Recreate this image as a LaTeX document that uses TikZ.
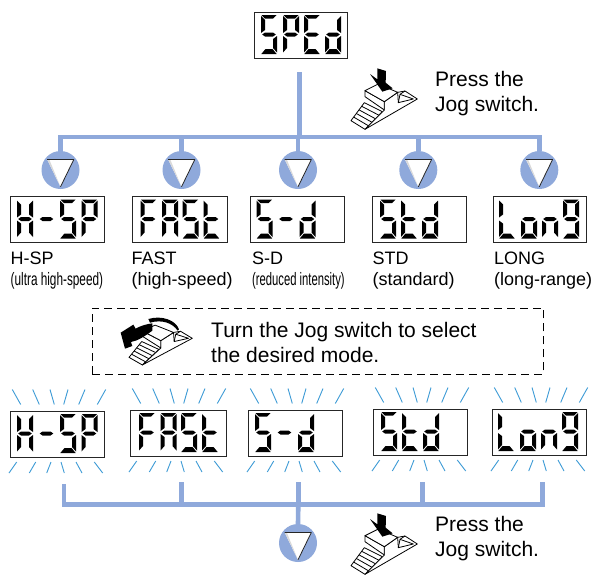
\documentclass[tikz,border=0pt]{standalone}
\usepackage{fontspec}
\setmainfont{Liberation Sans}
\definecolor{barblue}{HTML}{8FA9DB}
\definecolor{rayblue}{HTML}{3D9BD6}
\tikzset{
  bar/.style={draw=barblue,line width=4.6pt,line join=miter,line cap=butt},
  dispbox/.style={draw=black!85,line width=1pt,fill=white,inner sep=0pt,minimum width=#1,minimum height=46pt,anchor=north west},
  knob/.style={circle,fill=barblue,minimum size=38pt,inner sep=0pt},
  ray/.style={draw=rayblue,line width=.9pt},
  lbl/.style={anchor=north west,align=left,inner sep=0pt,font=\fontsize{18}{21}\selectfont},
  note/.style={anchor=north west,align=left,inner sep=0pt,font=\fontsize{21}{25}\selectfont},
  iconline/.style={draw=black,fill=white,line width=.8pt,line join=round},
}
% seven-segment pieces, in a 16 x 39 cell
\def\sga{\fill (.5,0)--(15.5,0)--(12,3.6)--(4,3.6)--cycle;}
\def\sgb{\fill (16,1)--(16,18)--(12,15)--(12,5)--cycle;}
\def\sgc{\fill (16,21)--(16,37.5)--(12,33)--(12,24)--cycle;}
\def\sgd{\fill (.3,39)--(15.7,39)--(11.5,34)--(4.5,34)--cycle;}
\def\sge{\fill (0,21)--(0,37.5)--(4,33)--(4,24)--cycle;}
\def\sgf{\fill (0,1)--(0,18)--(4,15)--(4,5)--cycle;}
\def\sgg{\fill (1.2,19.5)--(4,17.5)--(12,17.5)--(14.8,19.5)--(12,21.5)--(4,21.5)--cycle;}
\newcommand\dgt[2]{\begin{scope}[shift={(#1,0)}]\foreach \s in {#2}{\csname sg\s\endcsname}\end{scope}}
\newcommand\gS[1]{\dgt{#1}{a,f,g,c,d}}
\newcommand\gP[1]{\dgt{#1}{a,b,f,g,e}}
\newcommand\gE[1]{\dgt{#1}{a,f,g,e,d}}
\newcommand\gd[1]{\dgt{#1}{b,c,g,e,d}}
\newcommand\gH[1]{\dgt{#1}{f,b,g,e,c}}
\newcommand\gm[1]{\dgt{#1}{g}}
\newcommand\gF[1]{\dgt{#1}{a,f,g,e}}
\newcommand\gA[1]{\dgt{#1}{a,f,b,g,e,c}}
\newcommand\gt[1]{\dgt{#1}{f,g,e,d}}
\newcommand\gL[1]{\dgt{#1}{f,e,d}}
\newcommand\go[1]{\dgt{#1}{g,e,c,d}}
\newcommand\gn[1]{\dgt{#1}{g,e,c}}
\newcommand\gG[1]{\dgt{#1}{a,b,f,g,c,d}}
% name, x, y, width, digits
\newcommand\word[5]{%
  \node[dispbox=#4] (#1) at (#2,#3) {};
  \begin{scope}[shift={(#2,#3+3.5)}]#5\end{scope}}
\newcommand\wHSP{\gH{7}\gm{28.5}\gS{50}\gP{71.5}}
\newcommand\wFAST{\gF{9}\gA{30.5}\gS{51}\gt{72}}
\newcommand\wSD{\gS{7}\gm{28.5}\gd{50}}
\newcommand\wSTD{\gS{8}\gt{29}\gd{50}}
\newcommand\wLONG{\gL{6}\go{28}\gn{49}\gG{70}}
% rays round a blinking display: x of box, top of box, bottom of box
\newcommand\rays[3]{%
  \foreach \a/\b in {2.3/10.7,22.7/29.3,40/44.3,58/53.7,75/68.7,95.7/87.3}
    \draw[ray] (#1+\a,#2-21) -- (#1+\b,#2-6);
  \foreach \a/\b in {6.7/-1,25.7/19.3,41/36.7,51/54.3,66/72,84.3/92.7}
    \draw[ray] (#1+\a,#3+5) -- (#1+\b,#3+16);}
\newcommand\tri[1]{%
  \begin{scope}[shift={(#1)}]
    \fill[white] (-13.3,-10.5) -- (13.3,-10.5) -- (0,16.8) -- cycle;
    \fill[black!15] (-13.3,-10.5) -- (-11,-10) -- (0,16.8) -- cycle;
    \draw[black!85,line width=.8pt,line join=round] (-13.3,-10.5) -- (13.3,-10.5) -- (0,16.8);
  \end{scope}}
% jog switch body, in 1/3 pixel units
\newcommand\jogbody{%
  \draw[iconline] (58,128) -- (18,182) -- (60,208) -- (112,155) -- cycle;
  \foreach \t in {.2,.4,.6,.8}
    \draw[black,line width=.8pt] ($(18,182)!\t!(58,128)$) -- ($(60,208)!\t!(112,155)$);
  \draw[iconline] (118,125) -- (118,150) -- (60,208) -- (217,117) -- (180,93) -- (158,97) -- cycle;
  \draw[iconline] (60,92) -- (60,110) -- (118,150) -- (118,125) -- cycle;
  \draw[iconline] (60,92) -- (100,72) -- (158,97) -- (118,125) -- cycle;
  \draw[iconline] (160,128) -- (165,103) -- (205,117) -- cycle;
  \draw[black,line width=.8pt] (165,103) -- (180,93);
  \draw[black,line width=.8pt] (158,97) -- (160,128);}
\newcommand\pressarrow{%
  \fill (97,25) -- (123,33) -- (122,68) -- (143,85) -- (112,95) -- (75,42) -- (97,58) -- cycle;}
\usetikzlibrary{calc}
\begin{document}
\begin{tikzpicture}[x=1pt,y=-1pt]
\useasboundingbox (0,0) rectangle (593,574);
\fill[white] (0,0) rectangle (593,574);
% top
\word{top}{254}{11.5}{93}{\gS{7}\gP{29}\gE{50}\gd{71}}
\coordinate (s0) at (299.5,72);
\foreach \n/\x in {k1/60.5,k2/181.5,k3/298,k4/418.3,k5/539.3}{
  \node[knob] (\n) at (\x,170) {};
}
\coordinate (j1) at (60.5,137);
\coordinate (j2) at (181.5,137);
\coordinate (j3) at (299.5,137);
\coordinate (j3b) at (298,137);
\coordinate (j4) at (418.3,137);
\coordinate (j5) at (539.3,137);
\draw[bar] (k1.north) -- (j1) -- (j5) -- (k5.north);
\draw[bar] (s0) -- (j3);
\draw[bar] (j3b) -- (k3.north);
\draw[bar] (j2) -- (k2.north);
\draw[bar] (j4) -- (k4.north);
\foreach \n in {k1,k2,k3,k4,k5}{\tri{\n}}
% first row
\word{a1}{10}{196}{94}{\wHSP}
\word{a2}{131.5}{196}{95}{\wFAST}
\word{a3}{249.5}{196}{94}{\wSD}
\word{a4}{372}{196}{94}{\wSTD}
\word{a5}{493}{196}{93}{\wLONG}
\node[lbl] (l1) at (10.5,252) {H-SP\\\scalebox{.655}[1]{(ultra high-speed)}};
\node[lbl] (l2) at (131.5,252) {FAST\\(high-speed)};
\node[lbl] (l3) at (252,252) {S-D\\\scalebox{.625}[1]{(reduced intensity)}};
\node[lbl] (l4) at (372.5,252) {STD\\(standard)};
\node[lbl] (l5) at (494,252) {LONG\\(long-range)};
% dashed note
\node[draw=black,dashed,dash pattern=on 8pt off 5pt,line width=.8pt,inner sep=0pt,minimum width=451pt,minimum height=66.5pt,anchor=north west] (notebox) at (92,307.5) {};
\node[note] (n1) at (211,322) {Turn the Jog switch to select\\the desired mode.};
% turn icon
\begin{scope}[shift={(192.3,338.3)},x=.318pt,y=-.293pt]
  \begin{scope}[shift={(-217,-117)}]\jogbody\end{scope}
\end{scope}
\begin{scope}[shift={(115,310)},x=.3333pt,y=-.3333pt]
  \fill (188,62) .. controls (172,38) and (140,28) .. (105,38) -- (100,27) .. controls (140,15) and (182,30) .. (192,58) -- cycle;
  \fill (112,40) .. controls (95,42) and (75,48) .. (62,56) -- (55,44) -- (17,68) -- (30,116) -- (52,108) -- (48,96) .. controls (70,92) and (90,78) .. (112,62) -- cycle;
\end{scope}
% press icons and notes
\begin{scope}[shift={(345,60)},x=.3333pt,y=-.3333pt]\jogbody\pressarrow\end{scope}
\begin{scope}[shift={(345,505)},x=.3333pt,y=-.3333pt]\jogbody\pressarrow\end{scope}
\node[note] (p1) at (435,71) {Press the\\Jog switch.};
\node[note] (p2) at (435,516) {Press the\\Jog switch.};
% second row
\word{b1}{10}{410.5}{94}{\wHSP}
\word{b2}{130}{409.5}{96}{\wFAST}
\word{b3}{248}{409.5}{94}{\wSD}
\word{b4}{373}{408.5}{94}{\wSTD}
\word{b5}{492}{408.5}{94}{\wLONG}
\rays{10}{410.5}{457}
\rays{130}{409.5}{456}
\rays{248}{409.5}{456}
\rays{373}{408.5}{455}
\rays{492}{408.5}{455}
% lower connectors
\node[knob] (k6) at (298,543) {};
\coordinate (t1) at (64,484);
\coordinate (t2) at (181.7,482);
\coordinate (t3) at (298.3,482);
\coordinate (t4) at (422.3,482);
\coordinate (t5) at (542.7,482);
\coordinate (u1) at (64,504.5);
\coordinate (u2) at (181.7,504.5);
\coordinate (u3) at (298.3,504.5);
\coordinate (u4) at (422.3,504.5);
\coordinate (u5) at (542.7,504.5);
\draw[bar] (t1) -- (u1) -- (u5) -- (t5);
\draw[bar] (t2) -- (u2);
\draw[bar] (t3) -- (u3);
\draw[bar] (t4) -- (u4);
\draw[bar] (u3) -- (k6.north);
\tri{k6}
\end{tikzpicture}
\end{document}
